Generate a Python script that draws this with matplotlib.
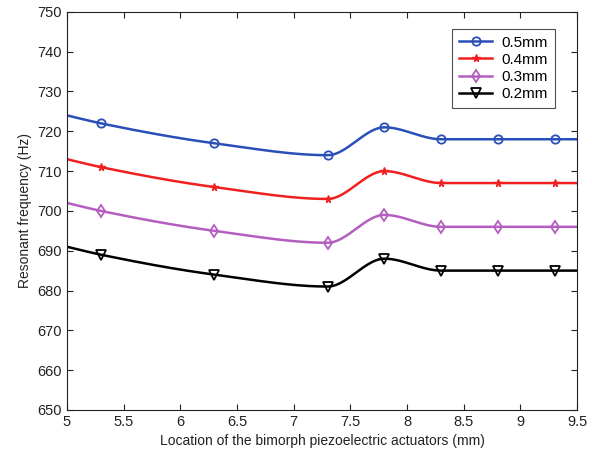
import numpy as np
import matplotlib
matplotlib.use("Agg")
import matplotlib.pyplot as plt

plt.rcParams['font.family'] = ['Liberation Sans', 'DejaVu Sans']

x = [5.0, 5.3, 6.3, 7.3, 7.8, 8.3, 8.8, 9.3, 9.5]
y05 = [724, 722, 717, 714, 721, 718, 718, 718, 718]
y04 = [713, 711, 706, 703, 710, 707, 707, 707, 707]
y03 = [702, 700, 695, 692, 699, 696, 696, 696, 696]
y02 = [691, 689, 684, 681, 688, 685, 685, 685, 685]
labels = ['0.5mm', '0.4mm', '0.3mm', '0.2mm']


def pchip(xk, yk, xs):
    xk = np.asarray(xk, float); yk = np.asarray(yk, float)
    h = np.diff(xk); d = np.diff(yk) / h
    n = len(xk); m = np.zeros(n)
    for k in range(1, n - 1):
        if d[k - 1] * d[k] > 0:
            w1 = 2 * h[k] + h[k - 1]; w2 = h[k] + 2 * h[k - 1]
            m[k] = (w1 + w2) / (w1 / d[k - 1] + w2 / d[k])
    m[0] = d[0]; m[-1] = d[-1]
    idx = np.clip(np.searchsorted(xk, xs) - 1, 0, n - 2)
    t = (xs - xk[idx]) / h[idx]
    h00 = 2 * t**3 - 3 * t**2 + 1; h10 = t**3 - 2 * t**2 + t
    h01 = -2 * t**3 + 3 * t**2; h11 = t**3 - t**2
    return h00 * yk[idx] + h10 * h[idx] * m[idx] + h01 * yk[idx + 1] + h11 * h[idx] * m[idx + 1]


fig = plt.figure(figsize=(5.92, 4.57), dpi=100)
ax = fig.add_axes([0.113, 0.103, 0.862, 0.871])

styles = [
    dict(color='#2a4fb8', marker='o', mfc='none', ms=6, mew=1.3),
    dict(color='#f02020', marker='*', mfc='#f02020', ms=5.5, mew=1.0),
    dict(color='#b45ec0', marker='d', mfc='none', ms=6.5, mew=1.3),
    dict(color='#000000', marker='v', mfc='none', ms=6.5, mew=1.3),
]
xs = np.linspace(x[0], x[-1], 400)
xm = x[1:-1]
for ys, lab, st in zip([y05, y04, y03, y02], labels, styles):
    ax.plot(xs, pchip(x, ys, xs), color=st['color'], lw=1.8)
    ax.plot(xm, ys[1:-1], linestyle='none', **st)
    ax.plot([], [], color=st['color'], lw=1.8, label=lab, **{k: v for k, v in st.items() if k != 'color'})

ax.set_xlim(5, 9.5)
ax.set_ylim(650, 750)
ax.set_xticks(np.arange(5, 9.51, 0.5))
ax.set_xticklabels(['5', '5.5', '6', '6.5', '7', '7.5', '8', '8.5', '9', '9.5'])
ax.set_yticks(np.arange(650, 751, 10))
ax.tick_params(direction='in', top=True, right=True, labelsize=10.5, colors='#222222', length=4)
for s in ax.spines.values():
    s.set_color('#222222')
ax.set_xlabel('Location of the bimorph piezoelectric actuators (mm)', fontsize=10, color='#222222')
ax.set_ylabel('Resonant frequency (Hz)', fontsize=10, color='#222222')
leg = ax.legend(loc='upper right', bbox_to_anchor=(0.962, 0.965), fancybox=False, edgecolor='#222222',
                fontsize=11, handlelength=2.2, borderpad=0.45, labelspacing=0.2, handletextpad=0.6,
                borderaxespad=0.2)
leg.get_frame().set_linewidth(0.8)
fig.savefig('out.png', dpi=100)
